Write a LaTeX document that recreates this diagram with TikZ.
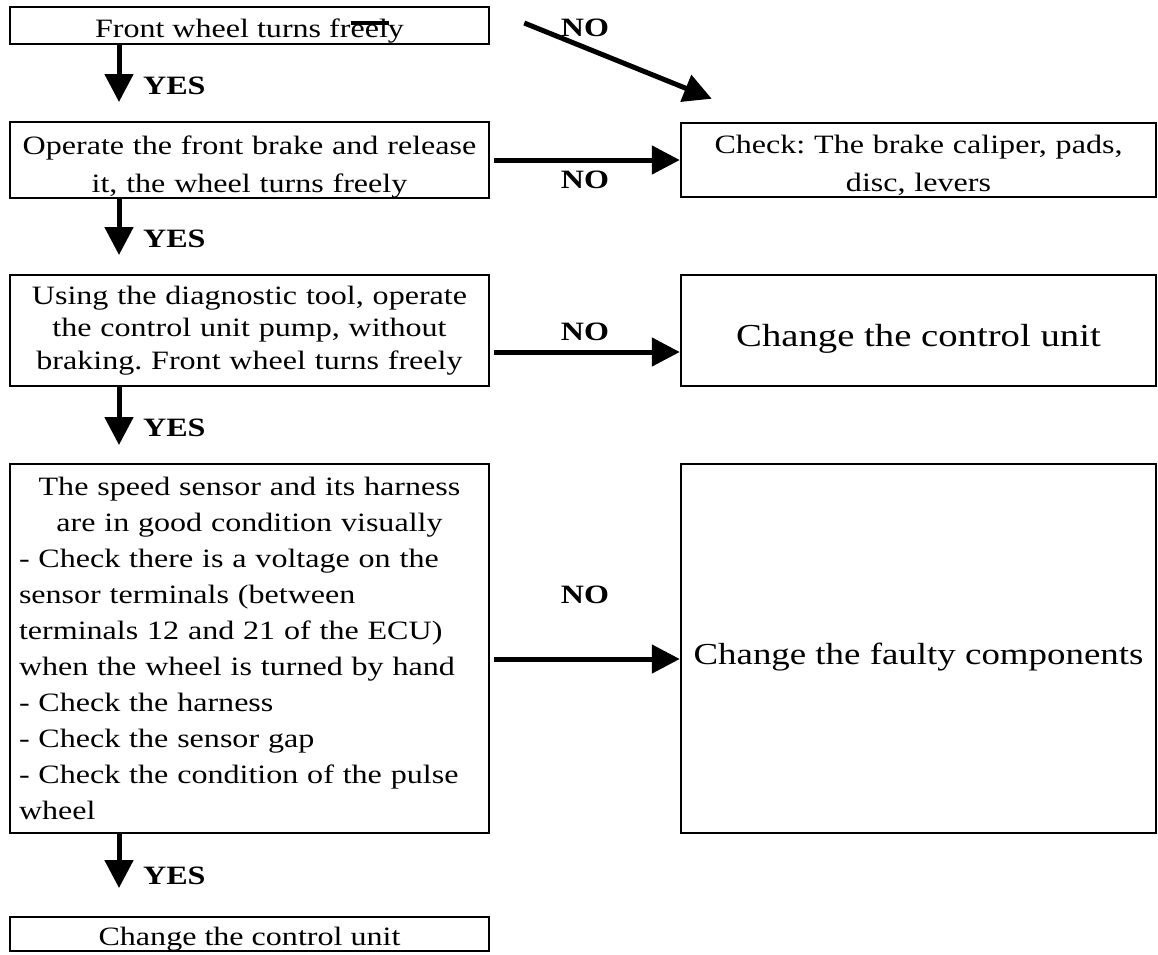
\documentclass[tikz,border=0pt]{standalone}
\usepackage{fontspec}
\setmainfont{Liberation Serif}[FakeStretch=1.21]
\usetikzlibrary{arrows.meta}
\frenchspacing
\begin{document}
\begin{tikzpicture}[x=1pt,y=-1pt,
  box/.style={draw, line width=2.5pt, inner xsep=9pt, inner ysep=0pt,
    minimum width=479pt, font=\fontsize{26.5}{36}\selectfont},
  rbox/.style={box, minimum width=475pt},
  big/.style={text height=34pt, text depth=3pt},
  arr/.style={line width=5pt, -{Triangle[length=28pt,width=28pt]}},
  lbl/.style={inner sep=0pt, font=\fontsize{26.5}{32}\selectfont\bfseries}]
\useasboundingbox (0,0) rectangle (1158,954);

% boxes
\node[box, minimum height=37pt, text height=26pt, text depth=2.4pt] (b1) at (249.5,25.5) {Front wheel turns freely};
\node[box, minimum height=74pt, text width=461pt, align=center,
  font=\fontsize{26.5}{38}\selectfont] (b2) at (249.5,160)
  {\rule{0pt}{32pt}Operate the front brake and release\\ it, the wheel turns freely};
\node[rbox, minimum height=74pt, text width=457pt, align=center,
  font=\fontsize{26.5}{38}\selectfont] (chk) at (918.5,160)
  {\rule{0pt}{30pt}Check: The brake caliper, pads,\\ disc, levers};
\node[box, minimum height=111pt, text width=461pt, align=center,
  font=\fontsize{26.5}{32.5}\selectfont] (b3) at (249.5,330.5)
  {Using the diagnostic tool, operate\\ the control unit pump, without\\ braking. Front wheel turns freely};
\node[rbox, big, minimum height=111pt, font=\fontsize{32}{38}\selectfont] (ctl) at (918.5,330.5) {Change the control unit};
\node[box, minimum height=369pt, text width=461pt, align=left] (b4) at (249.5,648.5)
  {\makebox[461pt]{The speed sensor and its harness}\\
   \makebox[461pt]{are in good condition visually}\\
   - Check there is a voltage on the\\
   sensor terminals (between\\
   terminals 12 and 21 of the ECU)\\
   when the wheel is turned by hand\\
   - Check the harness\\
   - Check the sensor gap\\
   - Check the condition of the pulse\\
   wheel};
\node[rbox, big, minimum height=369pt, font=\fontsize{30.5}{36}\selectfont] (flt) at (918.5,648.5) {Change the faulty components};
\node[box, minimum height=34pt, text height=24pt, text depth=2pt] (b5) at (249.5,934) {Change the control unit};

% stray mark over "freely"
\draw[line width=3.5pt] (351,23) -- (389,23);

% YES arrows
\coordinate (t1) at (119,102);
\coordinate (t2) at (119,255);
\coordinate (t3) at (119,445);
\coordinate (t4) at (119,888);
\draw[arr] ([xshift=-130.5pt]b1.south) -- (t1);
\draw[arr] ([xshift=-130.5pt]b2.south) -- (t2);
\draw[arr] ([xshift=-130.5pt]b3.south) -- (t3);
\draw[arr] ([xshift=-130.5pt]b4.south) -- (t4);
\node[lbl, anchor=west] (y1) at (143,86) {YES};
\node[lbl, anchor=west] (y2) at (143,239) {YES};
\node[lbl, anchor=west] (y3) at (143,428) {YES};
\node[lbl, anchor=west] (y4) at (143,876) {YES};

% NO arrows
\draw[arr] ([xshift=34pt,yshift=2.5pt]b1.east) -- ([xshift=32pt,yshift=23pt]chk.north west);
\draw[arr] ([xshift=4pt]b2.east) -- (chk.west);
\draw[arr] ([xshift=4pt,yshift=-21.5pt]b3.east) -- ([yshift=-21.5pt]ctl.west);
\draw[arr] ([xshift=4pt,yshift=-10.5pt]b4.east) -- ([yshift=-10.5pt]flt.west);
\node[lbl] (n1) at (585,28) {NO};
\node[lbl] (n2) at (585,180) {NO};
\node[lbl] (n3) at (585,332) {NO};
\node[lbl] (n4) at (585,595) {NO};
\end{tikzpicture}
\end{document}
